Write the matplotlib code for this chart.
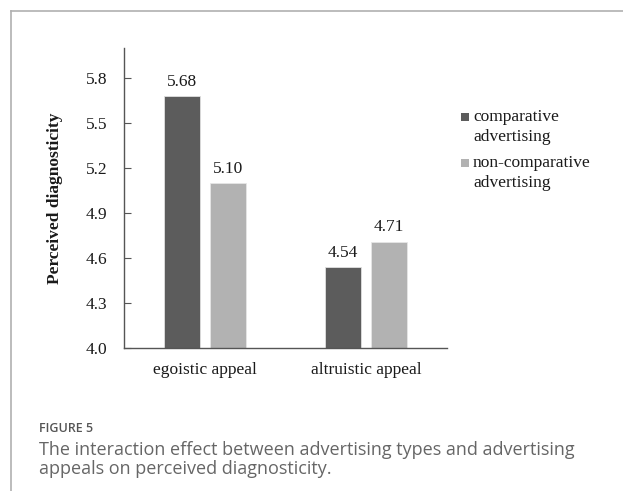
import matplotlib.pyplot as plt
from matplotlib.patches import Rectangle
from matplotlib.lines import Line2D

appeals = ['egoistic appeal', 'altruistic appeal']
comparative = [5.68, 4.54]
non_comparative = [5.10, 4.71]
series_names = ['comparative\nadvertising', 'non-comparative\nadvertising']
yticks = [4.0, 4.3, 4.6, 4.9, 5.2, 5.5, 5.8]

dark = '#5c5c5c'
light = '#b2b2b2'
serif = ['Liberation Serif', 'DejaVu Serif']
fs = 12.5

fig = plt.figure(figsize=(6.23, 4.91), dpi=100)
ax = fig.add_axes([0.199, 0.2912, 0.5185, 0.611])

x = list(range(len(appeals)))
w = 0.223
off = 0.142
b1 = ax.bar([i - off for i in x], [v - 4.0 for v in comparative], w, bottom=4.0,
            color=dark, edgecolor='#e0e0e0', linewidth=0.6)
b2 = ax.bar([i + off for i in x], [v - 4.0 for v in non_comparative], w, bottom=4.0,
            color=light, edgecolor='#e6e6e6', linewidth=0.6)

for bars, vals in [(b1, comparative), (b2, non_comparative)]:
    for r, v in zip(bars, vals):
        ax.annotate(f'{v:.2f}', (r.get_x() + r.get_width() / 2, v),
                    xytext=(0, 4.5), textcoords='offset points',
                    ha='center', va='bottom', fontsize=fs,
                    family=serif, color='#1a1a1a')

ax.set_xlim(-0.5, 1.5)
ax.set_ylim(4.0, 6.0)
ax.set_yticks(yticks)
ax.set_yticklabels([f'{t:.1f}' for t in yticks], family=serif, fontsize=fs,
                   color='#1a1a1a')
ax.set_xticks(x)
ax.set_xticklabels(appeals, family=serif, fontsize=fs, color='#1a1a1a')
ax.tick_params(axis='y', direction='in', length=5, width=0.8, color='#555555', pad=12)
ax.tick_params(axis='x', length=0, pad=10)
for s in ['top', 'right']:
    ax.spines[s].set_visible(False)
for s in ['left', 'bottom']:
    ax.spines[s].set_color('#555555')
    ax.spines[s].set_linewidth(1.0)
ax.set_ylabel('Perceived diagnosticity', family=serif, fontsize=fs,
              fontweight='bold', labelpad=16, color='#1a1a1a')

# legend drawn by hand so the square sits beside the first line
for (name, col, ty) in [(series_names[0], dark, 118), (series_names[1], light, 164)]:
    fig.patches.append(Rectangle((461 / 623, 1 - (ty + 3) / 491), 8 / 623, 8 / 491,
                                 transform=fig.transFigure, facecolor=col,
                                 edgecolor='none'))
    fig.text(473 / 623, 1 - (ty - 9) / 491, name, family=serif, fontsize=fs,
             va='top', ha='left', linespacing=1.3, color='#1a1a1a')

# frame lines of the figure panel
fig.add_artist(Line2D([10.5 / 623, 1], [1 - 10.5 / 491, 1 - 10.5 / 491],
                      transform=fig.transFigure, color='#b0b0b0', linewidth=1.2))
fig.add_artist(Line2D([10.5 / 623, 10.5 / 623], [0, 1 - 10.5 / 491],
                      transform=fig.transFigure, color='#b0b0b0', linewidth=1.2))

cap = ['Open Sans', 'DejaVu Sans']
fig.text(39 / 623, 1 - 429 / 491, 'FIGURE 5', family=cap, fontsize=9,
         fontweight='semibold', color='#555555', va='center')
fig.text(39 / 623, 1 - 441 / 491,
         'The interaction effect between advertising types and advertising\n'
         'appeals on perceived diagnosticity.',
         family=cap, fontsize=13, color='#666666', va='top',
         linespacing=1.08)

fig.savefig('out.png', dpi=100, facecolor='white')
